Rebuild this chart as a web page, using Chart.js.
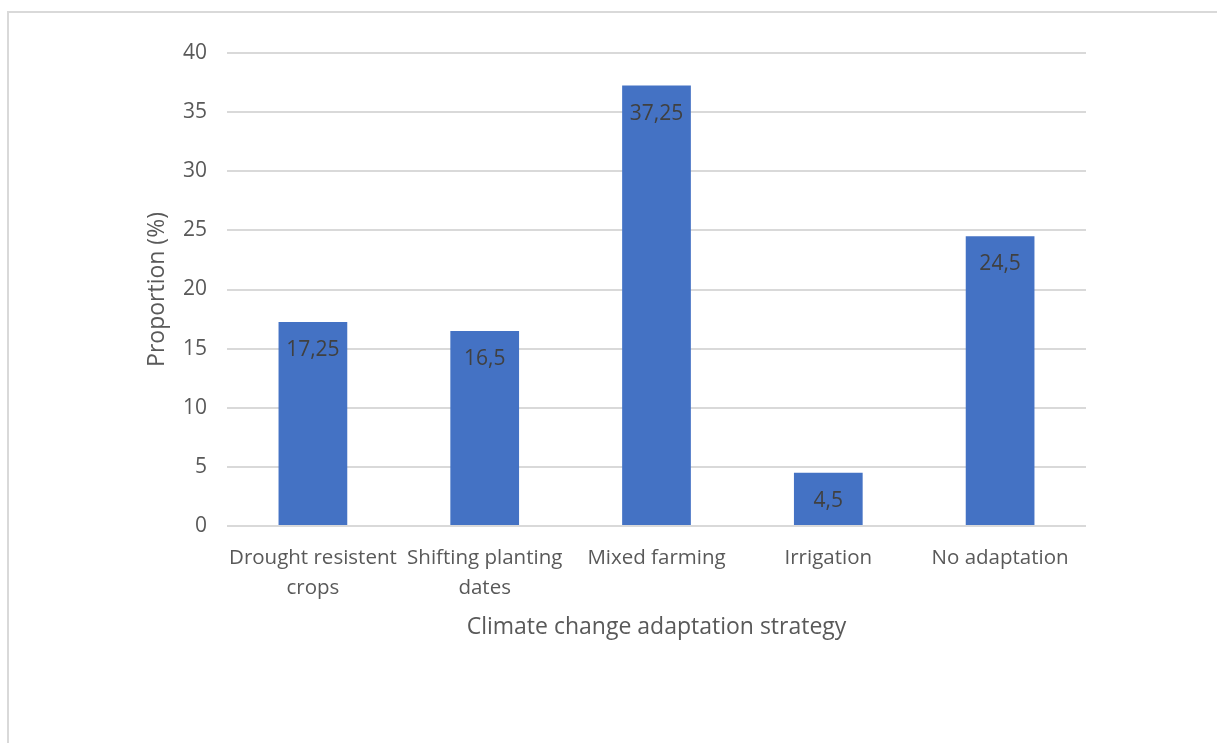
<!DOCTYPE html>
<html>
<head>
<meta charset="utf-8">
<script src="https://cdn.jsdelivr.net/npm/chart.js@4/dist/chart.umd.min.js"></script>
<style>
  html, body { margin: 0; padding: 0; background: #fff; overflow: hidden; }
  #frame { position: absolute; left: 7px; top: 11px; width: 1230px; height: 760px;
           border: 2px solid #d9d9d9; box-sizing: border-box; }
  #wrap { position: absolute; left: 0; top: 0; width: 1217px; height: 743px; }
</style>
</head>
<body>
<div id="frame"></div>
<div id="wrap"><canvas id="c" width="1217" height="743"></canvas></div>
<script>
// Adaptation strategies and the share of respondents using each
const categories = [
  ['Drought resistent', 'crops'],
  ['Shifting planting', 'dates'],
  ['Mixed farming'],
  ['Irrigation'],
  ['No adaptation']
];
const proportions = [17.25, 16.5, 37.25, 4.5, 24.5];
const yTicks = [0, 5, 10, 15, 20, 25, 30, 35, 40];

const FONT = '"Open Sans", "Noto Sans", sans-serif';
const fmt = v => String(v).replace('.', ',');

// Writes each bar's value just inside its top end
const valueLabels = {
  id: 'valueLabels',
  afterDatasetsDraw(chart) {
    const ctx = chart.ctx;
    const meta = chart.getDatasetMeta(0);
    ctx.save();
    ctx.font = '21px ' + FONT;
    ctx.fillStyle = '#404040';
    ctx.textAlign = 'center';
    ctx.textBaseline = 'middle';
    meta.data.forEach((bar, i) => {
      ctx.fillText(fmt(proportions[i]), bar.x, bar.y + 28);
    });
    ctx.restore();
  }
};

new Chart(document.getElementById('c'), {
  type: 'bar',
  data: {
    labels: categories,
    datasets: [{
      data: proportions,
      backgroundColor: '#4472C4',
      borderWidth: 0,
      categoryPercentage: 1,
      barPercentage: 0.4
    }]
  },
  options: {
    responsive: false,
    animation: false,
    events: [],
    layout: { padding: { left: 140, top: 53, right: 131, bottom: 102 } },
    plugins: { legend: { display: false }, tooltip: { enabled: false } },
    scales: {
      x: {
        grid: { display: false, drawTicks: false },
        border: { display: false },
        ticks: {
          color: '#595959',
          font: { family: FONT, size: 20.5, lineHeight: 1.46 },
          padding: 17,
          maxRotation: 0,
          autoSkip: false
        },
        title: {
          display: true,
          text: 'Climate change adaptation strategy',
          color: '#595959',
          font: { family: FONT, size: 23, lineHeight: 1.2 },
          padding: { top: 0, bottom: 0 }
        },
        afterFit(scale) { scale.height = 115; }
      },
      y: {
        min: 0,
        max: 40,
        afterBuildTicks(scale) { scale.ticks = yTicks.map(v => ({ value: v })); },
        grid: { color: '#d9d9d9', lineWidth: 2, drawTicks: false },
        border: { display: false },
        ticks: {
          color: '#595959',
          font: { family: FONT, size: 21 },
          padding: 20
        },
        title: {
          display: true,
          text: 'Proportion (%)',
          color: '#595959',
          font: { family: FONT, size: 23, lineHeight: 1.2 },
          padding: { top: 4, bottom: 0 }
        },
        afterFit(scale) { scale.width = 87; }
      }
    }
  },
  plugins: [valueLabels]
});
</script>
</body>
</html>
